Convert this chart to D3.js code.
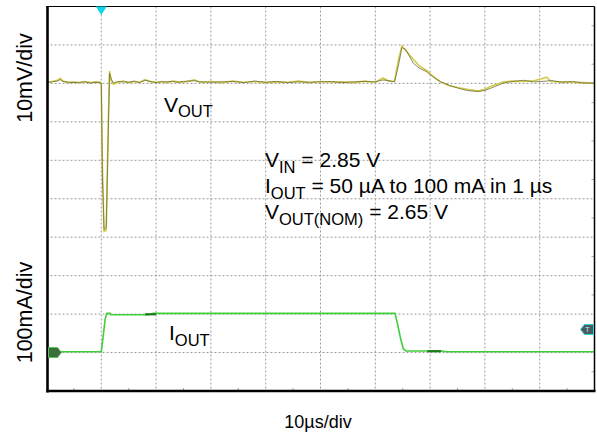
<!DOCTYPE html>
<html>
<head>
<meta charset="utf-8">
<script src="https://cdn.jsdelivr.net/npm/d3@7"></script>
<style>
  html, body { margin: 0; padding: 0; background: #fff; }
  svg { display: block; }
  text { font-family: "Liberation Sans", Arial, Helvetica, sans-serif; fill: #000; }
</style>
</head>
<body>
<svg id="chart" width="597" height="435"></svg>
<script>
// Time base: 10 µs/div, 10 divisions
const timeTicks = [0, 10, 20, 30, 40, 50, 60, 70, 80, 90, 100];
const divTicks = [0, 1, 2, 3, 4, 5, 6, 7, 8, 9, 10];

// Output voltage deviation (mV), two overlaid acquisitions
const vTime = [0, 1, 2, 2.5, 3, 4, 5, 6, 7, 8, 9, 9.8, 10.0, 10.2, 10.5, 10.9, 11.2, 11.5, 11.8, 12.2,
  13, 14, 15, 16, 17, 18, 19, 20, 21, 22, 23, 24, 25, 27, 28, 30, 32, 34, 36, 38, 40, 42, 44, 46, 48,
  50, 52, 54, 56, 58, 60, 61.4, 62.5, 63.5, 64.2, 64.85, 65.5, 66.97, 68.0, 69.42, 70.6, 71.84, 73.5,
  75.5, 77.0, 78.8, 80.0, 81.0, 82.2, 83.4, 85, 87, 89, 91.3, 92, 94, 96, 98, 100];
const vOutA = [0.3, 0.5, 0.8, 1.3, 0.6, 0.2, 0.4, 0.1, 0.5, 0.2, 0.4, 0.3, 0.0, -22, -38.5, -38.2, -15, 3.2, 0.8, -0.2,
  0.3, 0.6, 0.2, 0.5, 0.3, 1.0, 0.4, 0.3, 0.5, 0.2, 0.6, 0.4, 0.3, 0.9, 0.3, 0.5, 0.2, 0.6, 0.3, 0.5, 0.2, 0.4, 0.3, 0.6, 0.2,
  0.5, 0.3, 0.4, 0.2, 0.6, 0.3, 1.4, 0.6, 0.5, 6.0, 9.7, 8.6, 6.2, 4.6, 3.3, 1.8, 0.4, -0.6,
  -1.2, -1.6, -2.0, -1.5, -0.8, -0.2, 0.4, 0.6, 0.5, 0.7, 1.6, 0.5, 0.4, 0.3, 0.2, 0.0];
const vOutB = [0.2, 0.4, 0.6, 1.0, 0.5, 0.3, 0.2, 0.3, 0.4, 0.1, 0.3, 0.2, 0.0, -24, -38, -37.5, -18, 2.6, 1.2, 0.1,
  0.5, 0.4, 0.3, 0.6, 0.2, 0.8, 0.5, 0.2, 0.4, 0.4, 0.5, 0.3, 0.5, 0.7, 0.4, 0.3, 0.4, 0.5, 0.2, 0.6, 0.3, 0.5, 0.2, 0.4, 0.3,
  0.4, 0.5, 0.2, 0.4, 0.5, 0.4, 0.9, 0.7, 0.4, 4.5, 9.3, 8.9, 5.2, 4.0, 3.0, 1.6, 0.5, -0.5,
  -1.4, -1.9, -2.1, -1.8, -1.3, -0.6, 0.1, 0.5, 0.8, 0.4, 0.6, 0.8, 0.3, 0.5, 0.1, 0.1];

// Load current (mA)
const iTime = [0, 10.0, 10.3, 10.7, 11.0, 11.6, 11.7, 18.5, 19.5, 63.6, 64.1, 64.6, 65.1, 65.6, 72, 73, 100];
const iOut  = [2, 2, 37, 87, 102, 102, 98.5, 98.5, 102, 102, 72, 37, 10, 4, 4, 2, 2];
// Persistence segments of the current trace: [start µs, end µs, mA]
const iPersist = [[18.0, 20.0, 99.5], [69.5, 72.0, 3.5]];

const svg = d3.select("#chart");
const plotL = 46.5, plotR = 594.5, plotT = 6.5, plotB = 391;

const x = d3.scaleLinear().domain([0, 100]).range([plotL, plotR]);
const yDiv = d3.scaleLinear().domain([0, 10]).range([plotB, plotT]);
const yV = d3.scaleLinear().domain([-80, 20]).range([plotB, plotT]);   // 10 mV/div
const yI = d3.scaleLinear().domain([-100, 900]).range([plotB, plotT]); // 100 mA/div

// Dotted graticule
const grid = svg.append("g");
grid.selectAll("line.v").data(timeTicks.slice(1, -1)).join("line")
  .attr("x1", d => x(d)).attr("x2", d => x(d)).attr("y1", plotT).attr("y2", plotB)
  .attr("stroke", "#9a9a9a").attr("stroke-width", 1).attr("stroke-dasharray", "2,2");
grid.selectAll("line.h").data(divTicks.slice(1, -1)).join("line")
  .attr("x1", plotL).attr("x2", plotR).attr("y1", d => yDiv(d)).attr("y2", d => yDiv(d))
  .attr("stroke", "#9a9a9a").attr("stroke-width", 1).attr("stroke-dasharray", "2,2");

// Half-division ticks on bottom and right edges
const halfT = timeTicks.slice(0, -1).map(d => d + 5);
grid.selectAll("line.bt").data(halfT).join("line")
  .attr("x1", d => x(d)).attr("x2", d => x(d)).attr("y1", plotB - 3).attr("y2", plotB)
  .attr("stroke", "#aaa");
const halfD = divTicks.slice(0, -1).map(d => d + 0.5);
grid.selectAll("line.rt").data(halfD).join("line")
  .attr("x1", plotR - 3).attr("x2", plotR).attr("y1", d => yDiv(d)).attr("y2", d => yDiv(d))
  .attr("stroke", "#aaa");

// Traces
const vLine = (vals) => d3.line().x((d, i) => x(vTime[i])).y(d => yV(d))(vals);
svg.append("path").attr("d", vLine(vOutA)).attr("fill", "none")
  .attr("stroke", "#d2cc4a").attr("stroke-width", 1.6);
svg.append("path").attr("d", vLine(vOutB)).attr("fill", "none")
  .attr("stroke", "#6e6c3a").attr("stroke-width", 0.8);

const iLine = d3.line().x((d, i) => x(iTime[i])).y(d => yI(d));
svg.append("path").attr("d", iLine(iOut)).attr("fill", "none")
  .attr("stroke", "#3fcf3a").attr("stroke-width", 1.6);
svg.selectAll("line.persist").data(iPersist).join("line")
  .attr("x1", d => x(d[0])).attr("x2", d => x(d[1]))
  .attr("y1", d => yI(d[2])).attr("y2", d => yI(d[2]))
  .attr("stroke", "#1f7a1f").attr("stroke-width", 2.2);

// Frame
svg.append("line").attr("x1", plotL).attr("x2", plotR).attr("y1", plotT).attr("y2", plotT)
  .attr("stroke", "#000").attr("stroke-width", 1.2);
svg.append("line").attr("x1", plotR).attr("x2", plotR).attr("y1", plotT).attr("y2", plotB)
  .attr("stroke", "#000").attr("stroke-width", 1.5);
svg.append("line").attr("x1", plotL + 1).attr("x2", plotL + 1).attr("y1", plotT - 0.5).attr("y2", plotB + 1.5)
  .attr("stroke", "#000").attr("stroke-width", 2.6);
svg.append("line").attr("x1", plotL).attr("x2", plotR + 1).attr("y1", plotB).attr("y2", plotB)
  .attr("stroke", "#000").attr("stroke-width", 2.6);

// Trigger position marker
const tx = x(10);
svg.append("path")
  .attr("d", `M${tx - 5.5},${plotT} L${tx + 5.5},${plotT} L${tx},${plotT + 8.5} Z`)
  .attr("fill", "#12d6e6");

// Channel ground marker (current) and trigger-level marker
const gy = yI(0);
svg.append("path")
  .attr("d", `M${plotL + 2},${gy - 5} L${plotL + 11},${gy - 5} L${plotL + 15},${gy} L${plotL + 11},${gy + 5} L${plotL + 2},${gy + 5} Z`)
  .attr("fill", "#3b6e3b").attr("stroke", "#5fbf5a").attr("stroke-width", 1);
const ty = yI(60);
svg.append("path")
  .attr("d", `M${plotR - 1},${ty - 5} L${plotR - 10},${ty - 5} L${plotR - 14},${ty} L${plotR - 10},${ty + 5} L${plotR - 1},${ty + 5} Z`)
  .attr("fill", "#4d5a5e").attr("stroke", "#2fd0dc").attr("stroke-width", 1);
svg.append("text").attr("x", plotR - 7).attr("y", ty + 3).attr("text-anchor", "middle")
  .style("font-size", "7px").style("fill", "#9ff").text("T");

// Labels with subscripts
function subLabel(xp, yp, main, sub, rest) {
  const size = 21, subSize = 16.5, drop = 5.5;
  const t = svg.append("text").attr("x", xp).attr("y", yp).style("font-size", size + "px");
  t.append("tspan").text(main);
  t.append("tspan").attr("dy", drop).style("font-size", subSize + "px").text(sub);
  if (rest) t.append("tspan").attr("dy", -drop).text(rest);
  return t;
}
subLabel(164, 111.5, "V", "OUT", null);
subLabel(169, 340, "I", "OUT", null);
subLabel(265, 167.3, "V", "IN", " = 2.85 V");
subLabel(265, 193.3, "I", "OUT", " = 50 \u00b5A to 100 mA in 1 \u00b5s");
subLabel(265, 219.3, "V", "OUT(NOM)", " = 2.65 V");

svg.append("text").attr("transform", "translate(31.5,78) rotate(-90)")
  .attr("text-anchor", "middle").style("font-size", "21.5px").text("10mV/div");
svg.append("text").attr("transform", "translate(31.5,312.5) rotate(-90)")
  .attr("text-anchor", "middle").style("font-size", "21.5px").text("100mA/div");
svg.append("text").attr("x", 318).attr("y", 428.3)
  .attr("text-anchor", "middle").style("font-size", "18px").text("10\u00b5s/div");
</script>
</body>
</html>
